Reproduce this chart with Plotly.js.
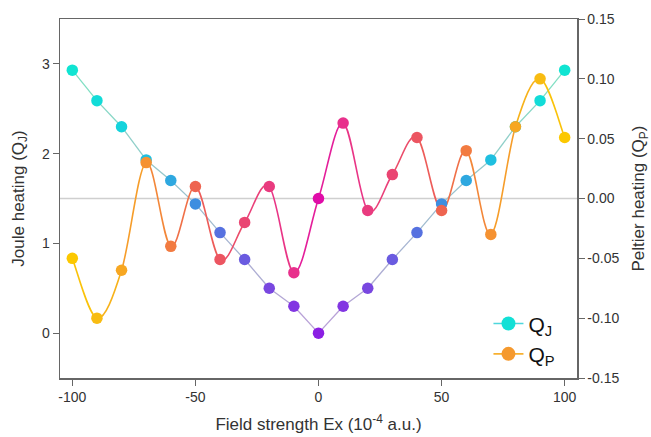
<!DOCTYPE html>
<html>
<head>
<meta charset="utf-8">
<script src="https://cdn.plot.ly/plotly-3.0.1.min.js"></script>
<style>html,body{margin:0;padding:0;background:#fff;}#chart{width:651px;height:437px;}</style>
</head>
<body>
<div id="chart"></div>
<script>
// ---- data ----
var fieldX = [-100,-90,-80,-70,-60,-50,-40,-30,-20,-10,0,10,20,30,40,50,60,70,80,90,100];
var jouleQJ = [2.93,2.59,2.30,1.93,1.70,1.44,1.12,0.82,0.50,0.30,0.00,0.30,0.50,0.82,1.12,1.44,1.70,1.93,2.30,2.59,2.93];
var peltierQP = [-0.050,-0.100,-0.060,0.030,-0.040,0.010,-0.051,-0.020,0.010,-0.062,0.000,0.063,-0.010,0.020,0.051,-0.010,0.040,-0.030,0.060,0.100,0.051];

var xTickVals = [-100,-50,0,50,100];
var xTickText = ['-100','-50','0','50','100'];
var yTickVals = [0,1,2,3];
var yTickText = ['0','1','2','3'];
var y2TickVals = [-0.15,-0.10,-0.05,0.00,0.05,0.10,0.15];
var y2TickText = ['-0.15','-0.10','-0.05','0.00','0.05','0.10','0.15'];
var peltierBaseline = 0;

// ---- colour scales ----
var qjMarkerStops = [[0,'#8b1fe3'],[0.1,'#8235e2'],[0.17,'#7947e0'],[0.28,'#6a5be0'],[0.38,'#5670e0'],[0.49,'#3e8ee0'],[0.58,'#2ea8e0'],[0.66,'#1fbfe0'],[0.78,'#15d3dc'],[0.88,'#12dcd8'],[1,'#10e4d2']];
var qjLineStops = [[0,'#bb9ed8'],[0.5,'#9cbfce'],[1,'#7ee3c2']];
var qpStops = [[0,'#e00ca8'],[0.1,'#e8308c'],[0.3,'#ea4572'],[0.5,'#ee6450'],[0.7,'#f59232'],[0.9,'#f8bc12'],[1,'#fcc800']];

function hex2rgb(h){return [parseInt(h.substr(1,2),16),parseInt(h.substr(3,2),16),parseInt(h.substr(5,2),16)];}
function colorAt(stops,t){
  t=Math.max(0,Math.min(1,t));
  for(var i=0;i<stops.length-1;i++){
    var a=stops[i],b=stops[i+1];
    if(t<=b[0]){
      var f=(t-a[0])/(b[0]-a[0]);var ca=hex2rgb(a[1]),cb=hex2rgb(b[1]);
      return 'rgb('+Math.round(ca[0]+(cb[0]-ca[0])*f)+','+Math.round(ca[1]+(cb[1]-ca[1])*f)+','+Math.round(ca[2]+(cb[2]-ca[2])*f)+')';
    }
  }
  return stops[stops.length-1][1];
}
var qjMax = Math.max.apply(null,jouleQJ);
var xMax = Math.max.apply(null,fieldX.map(Math.abs));

var shapes = [];
// reference line at Q_P = 0
shapes.push({type:'line',xref:'paper',yref:'y2',layer:'below',x0:0,x1:1,y0:peltierBaseline,y1:peltierBaseline,
  line:{color:'#cfcfcf',width:1.3}});
// Joule heating: straight segments with graded colour
for (var i=0;i<fieldX.length-1;i++){
  var mid=(jouleQJ[i]+jouleQJ[i+1])/2/qjMax;
  shapes.push({type:'line',xref:'x',yref:'y',layer:'below',
    x0:fieldX[i],y0:jouleQJ[i],x1:fieldX[i+1],y1:jouleQJ[i+1],
    line:{color:colorAt(qjLineStops,mid),width:1.3}});
}
// Peltier heating: smooth (Catmull-Rom) curve segments with graded colour
var n=fieldX.length;
function px(k){return fieldX[Math.max(0,Math.min(n-1,k))];}
function py(k){return peltierQP[Math.max(0,Math.min(n-1,k))];}
for (var j=0;j<n-1;j++){
  var c1x=px(j)+(px(j+1)-px(j-1))/6, c1y=py(j)+(py(j+1)-py(j-1))/6;
  var c2x=px(j+1)-(px(j+2)-px(j))/6, c2y=py(j+1)-(py(j+2)-py(j))/6;
  var midAbs=(Math.abs(fieldX[j])+Math.abs(fieldX[j+1]))/2/xMax;
  shapes.push({type:'path',xref:'x',yref:'y2',layer:'below',
    path:'M'+px(j)+','+py(j)+' C'+c1x+','+c1y+' '+c2x+','+c2y+' '+px(j+1)+','+py(j+1),
    line:{color:colorAt(qpStops,midAbs),width:1.6}});
}

var qjColors = jouleQJ.map(function(v){return colorAt(qjMarkerStops,v/qjMax);});
var qpColors = fieldX.map(function(v){return colorAt(qpStops,Math.abs(v)/xMax);});
var nulls = fieldX.map(function(){return null;});

var traces = [
  {x:fieldX,y:jouleQJ,yaxis:'y',mode:'markers',showlegend:false,hoverinfo:'x+y',
   marker:{size:11.5,color:qjColors,line:{width:0}}},
  {x:fieldX,y:peltierQP,yaxis:'y2',mode:'markers',showlegend:false,hoverinfo:'x+y',
   marker:{size:11.5,color:qpColors,line:{width:0}}},
  {x:fieldX,y:nulls,yaxis:'y',mode:'lines+markers',name:'Q<sub>J</sub>',
   line:{color:'#4ed6dc',width:1.6},marker:{size:14,color:'#12e0d6'}},
  {x:fieldX,y:nulls,yaxis:'y2',mode:'lines+markers',name:'Q<sub>P</sub>',
   line:{color:'#f7b030',width:1.6},marker:{size:14,color:'#f5992e'}}
];

var fontFam = 'Liberation Sans, Arial, sans-serif';
var layout = {
  width:651,height:437,
  margin:{l:60,r:74,t:19,b:59},
  paper_bgcolor:'#ffffff',plot_bgcolor:'#ffffff',
  font:{family:fontFam,color:'#333333',size:14},
  showlegend:true,
  legend:{x:0.968,xanchor:'right',y:0.01,yanchor:'bottom',bgcolor:'rgba(0,0,0,0)',
    font:{size:21,color:'#111111'},tracegroupgap:0},
  xaxis:{range:[-105,105],tickvals:xTickVals,ticktext:xTickText,
    showgrid:false,zeroline:false,showline:true,mirror:true,linecolor:'#666666',linewidth:1.5,
    ticks:'outside',ticklen:6,tickcolor:'#666666',tickfont:{size:14,color:'#333333'},
    title:{text:'Field strength Ex (10<sup>-4</sup> a.u.)',font:{size:17,color:'#333333'},standoff:14}},
  yaxis:{range:[-0.5,3.5],tickvals:yTickVals,ticktext:yTickText,
    showgrid:false,zeroline:false,showline:true,linecolor:'#666666',linewidth:1.5,
    ticks:'outside',ticklen:6,tickcolor:'#666666',tickfont:{size:14,color:'#333333'},
    title:{text:'Joule heating (Q<sub>J</sub>)',font:{size:17,color:'#333333'},standoff:13}},
  yaxis2:{range:[-0.15,0.15],overlaying:'y',side:'right',tickvals:y2TickVals,ticktext:y2TickText,
    showgrid:false,zeroline:false,
    showline:true,linecolor:'#666666',linewidth:1.5,
    ticks:'outside',ticklen:6,tickcolor:'#666666',tickfont:{size:14,color:'#333333'},
    title:{text:'Peltier heating (Q<sub>P</sub>)',font:{size:17,color:'#333333'},standoff:17}},
  shapes:shapes
};

Plotly.newPlot('chart',traces,layout,{displayModeBar:false,staticPlot:true});
</script>
</body>
</html>
